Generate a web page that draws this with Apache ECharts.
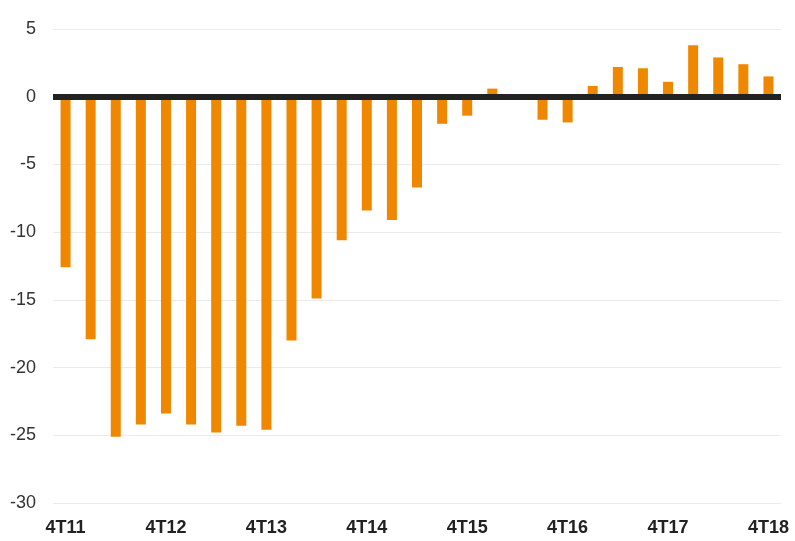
<!DOCTYPE html>
<html>
<head>
<meta charset="utf-8">
<script src="https://cdn.jsdelivr.net/npm/echarts@6/dist/echarts.min.js"></script>
<style>
  html, body { margin: 0; padding: 0; background: #fff; }
  #chart { width: 795px; height: 541px; }
</style>
</head>
<body>
<div id="chart"></div>
<script>
// 季度标签 4T11 ... 4T18
var quarters = [
  "4T11", "1T12", "2T12", "3T12", "4T12", "1T13", "2T13", "3T13", "4T13",
  "1T14", "2T14", "3T14", "4T14", "1T15", "2T15", "3T15", "4T15",
  "1T16", "2T16", "3T16", "4T16", "1T17", "2T17", "3T17", "4T17",
  "1T18", "2T18", "3T18", "4T18"
];
// 数值
var values = [
  -12.6, -17.9, -25.1, -24.2, -23.4, -24.2, -24.8, -24.3, -24.6,
  -18.0, -14.9, -10.6, -8.4, -9.1, -6.7, -2.0, -1.4,
  0.6, 0, -1.7, -1.9, 0.8, 2.2, 2.1, 1.1,
  3.8, 2.9, 2.4, 1.5
];
var yTicks = { min: -30, max: 5, interval: 5 };

(function() {
  var myChart = echarts.init(document.getElementById("chart"));
  var option = {
    animation: false,
    grid: {
      left: 53,
      right: 14,
      top: 29,
      bottom: 38
    },
    xAxis: {
      type: "category",
      data: quarters,
      axisLine: { show: false, onZero: false },
      axisTick: { show: false },
      splitLine: { show: false },
      axisLabel: {
        interval: 3,
        margin: 16,
        color: "#222",
        fontFamily: "Liberation Sans",
        fontWeight: "bold",
        fontSize: 18
      }
    },
    yAxis: {
      type: "value",
      min: yTicks.min,
      max: yTicks.max,
      interval: yTicks.interval,
      axisLine: { show: false },
      axisTick: { show: false },
      axisLabel: {
        margin: 17,
        color: "#333",
        fontFamily: "Liberation Sans",
        fontSize: 18
      },
      splitLine: {
        lineStyle: { color: "#ebebeb", width: 1 }
      }
    },
    series: [
      {
        type: "bar",
        data: values,
        barWidth: 10,
        itemStyle: { color: "#f08700" },
        markLine: {
          silent: true,
          symbol: "none",
          label: { show: false },
          lineStyle: { color: "#222", width: 6, type: "solid" },
          data: [{ yAxis: 0 }]
        }
      }
    ]
  };
  myChart.setOption(option);
  window.addEventListener("resize", function() {
    myChart.resize();
  });
})();
</script>
</body>
</html>
